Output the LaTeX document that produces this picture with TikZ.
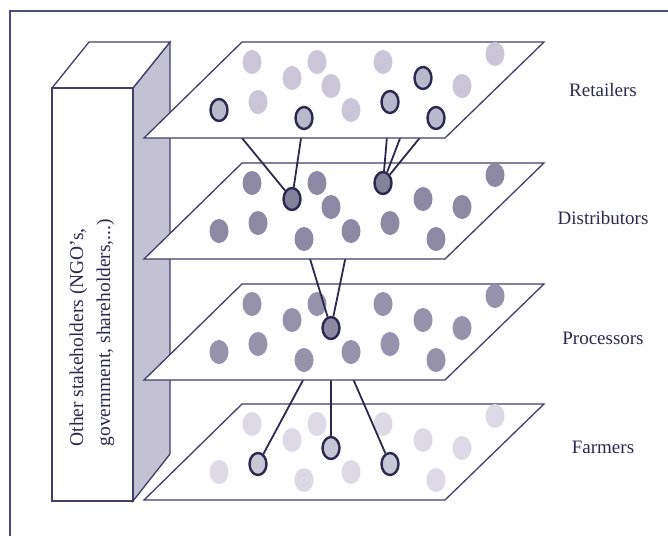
\documentclass[tikz,border=0pt]{standalone}
\usepackage{fontspec}
\setmainfont{Liberation Serif}
\usetikzlibrary{shapes.geometric}

\definecolor{ink}{HTML}{2B2950}
\definecolor{edge}{HTML}{403E6A}
\definecolor{framec}{HTML}{4B4A86}
\definecolor{side}{HTML}{C4C1D2}
\definecolor{retfill}{HTML}{CAC6D8}
\definecolor{rethub}{HTML}{BCB8CC}
\definecolor{distfill}{HTML}{8D88A4}
\definecolor{disthub}{HTML}{85809C}
\definecolor{procfill}{HTML}{9792AC}
\definecolor{prochub}{HTML}{8E89A4}
\definecolor{farmfill}{HTML}{DDDAE6}
\definecolor{farmhub}{HTML}{C9C6D5}

\tikzset{
  plane/.style={draw=edge, fill=white, line width=1.3pt},
  slab/.style={draw=edge, line width=1.3pt},
  dot/.style={ellipse, minimum width=19pt, minimum height=24pt, inner sep=0pt},
  hub/.style={draw=ink, line width=2.4pt, minimum width=17pt, minimum height=22pt},
  link/.style={draw=ink, line width=1.8pt},
  level/.style={text=ink, font=\fontsize{19}{22}\selectfont},
  % outlined dots of each layer
  rI/.style={hub, fill=rethub}, rK/.style={hub, fill=rethub},
  rM/.style={hub, fill=rethub}, rG/.style={hub, fill=rethub},
  rN/.style={hub, fill=rethub},
  dE/.style={hub, fill=disthub}, dC/.style={hub, fill=disthub},
  pF/.style={hub, fill=prochub},
  fF/.style={hub, fill=farmhub}, fJ/.style={hub, fill=farmhub},
  fM/.style={hub, fill=farmhub}
}

% one layer: #1 prefix, #2 top y, #3 dot colour
\newcommand{\layer}[3]{%
  \draw[plane] (144,#2+96) -- (445,#2+96) -- (544,#2) -- (242,#2) -- cycle;
  \foreach \n/\x/\dy in {A/252/20, B/317/20, C/383/20, D/495/12,
      E/292/36, F/331/44, G/423/36, H/462/44,
      I/219/68, J/258/60, K/304/76, L/351/68, M/390/60, N/436/76}
    \node[dot, fill=#3, #1\n/.try] (#1\n) at (\x,#2+\dy) {};
}

\begin{document}
\begin{tikzpicture}[x=1pt, y=-1pt]
  \useasboundingbox (0,0) rectangle (668,536);
  \draw[framec, line width=1.5pt] (10,536) -- (10,11) -- (668,11);

  % stakeholder pillar
  \draw[slab, fill=side] (133,88) -- (170,42) -- (170,454) -- (133,501) -- cycle;
  \draw[slab, fill=white] (52,88) -- (89,42) -- (170,42) -- (133,88) -- cycle;
  \draw[slab, fill=white] (52,88) rectangle (133,501);
  \node[rotate=90, anchor=west, align=left, text=ink,
        font=\fontsize{19.5}{27}\selectfont] (other) at (92,450)
    {Other stakeholders (NGO's,\\government, shareholders,...)};

  % hidden ends of the links
  \coordinate (pFc) at (331,328);
  \coordinate (dKc) at (304,239);
  \coordinate (dLc) at (351,231);
  \coordinate (rIc) at (219,110);
  \coordinate (rKc) at (304,118);
  \coordinate (rMc) at (390,102);
  \coordinate (rGc) at (423,78);
  \coordinate (rNc) at (436,118);

  \layer{f}{404}{farmfill}
  \foreach \p in {fJ,fF,fM} \draw[link] (\p) -- (pFc);

  \layer{p}{284}{procfill}
  \draw[link] (pF) -- (dKc);
  \draw[link] (pF) -- (dLc);

  \layer{d}{163}{distfill}
  \foreach \p in {rIc,rKc} \draw[link] (dE) -- (\p);
  \foreach \p in {rMc,rGc,rNc} \draw[link] (dC) -- (\p);

  \layer{r}{42}{retfill}

  \node[level] (ret) at (603,90) {Retailers};
  \node[level] (dist) at (603,218) {Distributors};
  \node[level] (proc) at (603,338) {Processors};
  \node[level] (farm) at (603,447) {Farmers};
\end{tikzpicture}
\end{document}
